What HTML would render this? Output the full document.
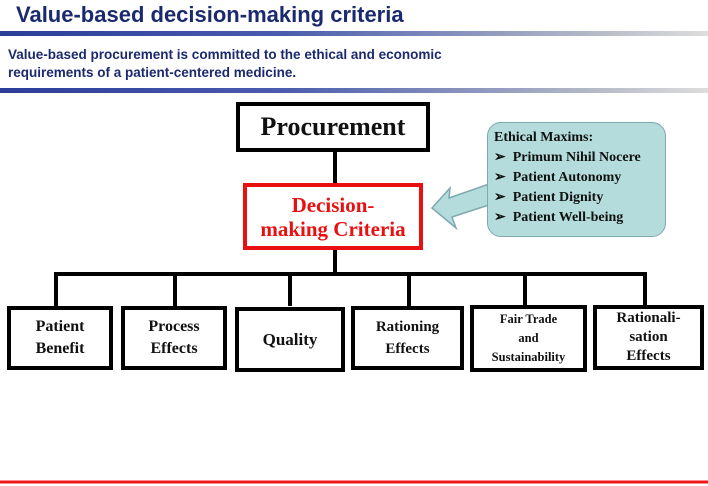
<!DOCTYPE html>
<html><head><meta charset="utf-8"><style>
body{margin:0;width:708px;height:486px;background:#fff;position:relative;overflow:hidden;font-family:"Liberation Sans",sans-serif}
.t{position:absolute;left:16px;top:2px;font-size:22px;font-weight:bold;color:#1b2a6e}
.s{position:absolute;left:8px;top:46px;font-size:13.5px;font-weight:bold;color:#1b2a6e;line-height:18px}
.ln{position:absolute;left:0;width:708px;height:5px;background:linear-gradient(90deg,#2a3e9a,#4a5cae 40%,#b8bcc8 85%,#ddd)}
.b{position:absolute;box-sizing:border-box;border:4px solid #000;background:#fff;display:flex;align-items:center;justify-content:center;text-align:center;font-family:"Liberation Serif",serif;font-weight:bold;color:#111}
.v{position:absolute;background:#000}
</style></head><body>
<div class="t">Value-based decision-making criteria</div>
<div class="ln" style="top:31px"></div>
<div class="s">Value-based procurement is committed to the ethical and economic<br>requirements of a patient-centered medicine.</div>
<div class="ln" style="top:88px"></div>

<div class="b" style="left:236px;top:102px;width:194px;height:50px;font-size:26px">Procurement</div>
<div class="v" style="left:333px;top:152px;width:4px;height:31px"></div>
<div class="b" style="left:243px;top:183px;width:180px;height:67px;border-color:#e81010;color:#e81010;font-size:21px;line-height:24px">Decision-<br>making Criteria</div>
<div class="v" style="left:333px;top:250px;width:4px;height:25px"></div>
<div class="v" style="left:54px;top:272px;width:593px;height:4px"></div>
<div class="v" style="left:54px;top:272px;width:4px;height:34px"></div>
<div class="v" style="left:173px;top:272px;width:4px;height:34px"></div>
<div class="v" style="left:288px;top:272px;width:4px;height:34px"></div>
<div class="v" style="left:407px;top:272px;width:4px;height:34px"></div>
<div class="v" style="left:523px;top:272px;width:4px;height:34px"></div>
<div class="v" style="left:643px;top:272px;width:4px;height:34px"></div>

<div class="b" style="left:7px;top:306px;width:106px;height:64px;font-size:16px;line-height:22px">Patient<br>Benefit</div>
<div class="b" style="left:121px;top:306px;width:106px;height:64px;font-size:16px;line-height:22px">Process<br>Effects</div>
<div class="b" style="left:235px;top:307px;width:110px;height:65px;font-size:17px">Quality</div>
<div class="b" style="left:351px;top:306px;width:113px;height:64px;font-size:15px;line-height:22px">Rationing<br>Effects</div>
<div class="b" style="left:470px;top:305px;width:117px;height:67px;font-size:12.5px;line-height:19px">Fair Trade<br>and<br>Sustainability</div>
<div class="b" style="left:593px;top:305px;width:111px;height:65px;font-size:15px;line-height:19px">Rationali-<br>sation<br>Effects</div>

<svg style="position:absolute;left:0;top:0" width="708" height="486">
<polygon points="432,208 450,188 449,198 492,183 495,203 452,217 456,228" fill="#b5dcdc" stroke="#7ea9ae" stroke-width="1.5"/>
<line x1="0" y1="482" x2="708" y2="482" stroke="#f01818" stroke-width="3"/>
</svg>
<div style="position:absolute;left:487px;top:122px;width:179px;height:115px;box-sizing:border-box;background:#b5dcdc;border:1.5px solid #7ea9ae;border-radius:14px;font-family:'Liberation Serif',serif;font-weight:bold;font-size:14px;color:#111;padding:5px 0 0 6px;line-height:20px">
Ethical Maxims:<br>➢&nbsp; Primum Nihil Nocere<br>➢&nbsp; Patient Autonomy<br>➢&nbsp; Patient Dignity<br>➢&nbsp; Patient Well-being</div>
</body></html>
